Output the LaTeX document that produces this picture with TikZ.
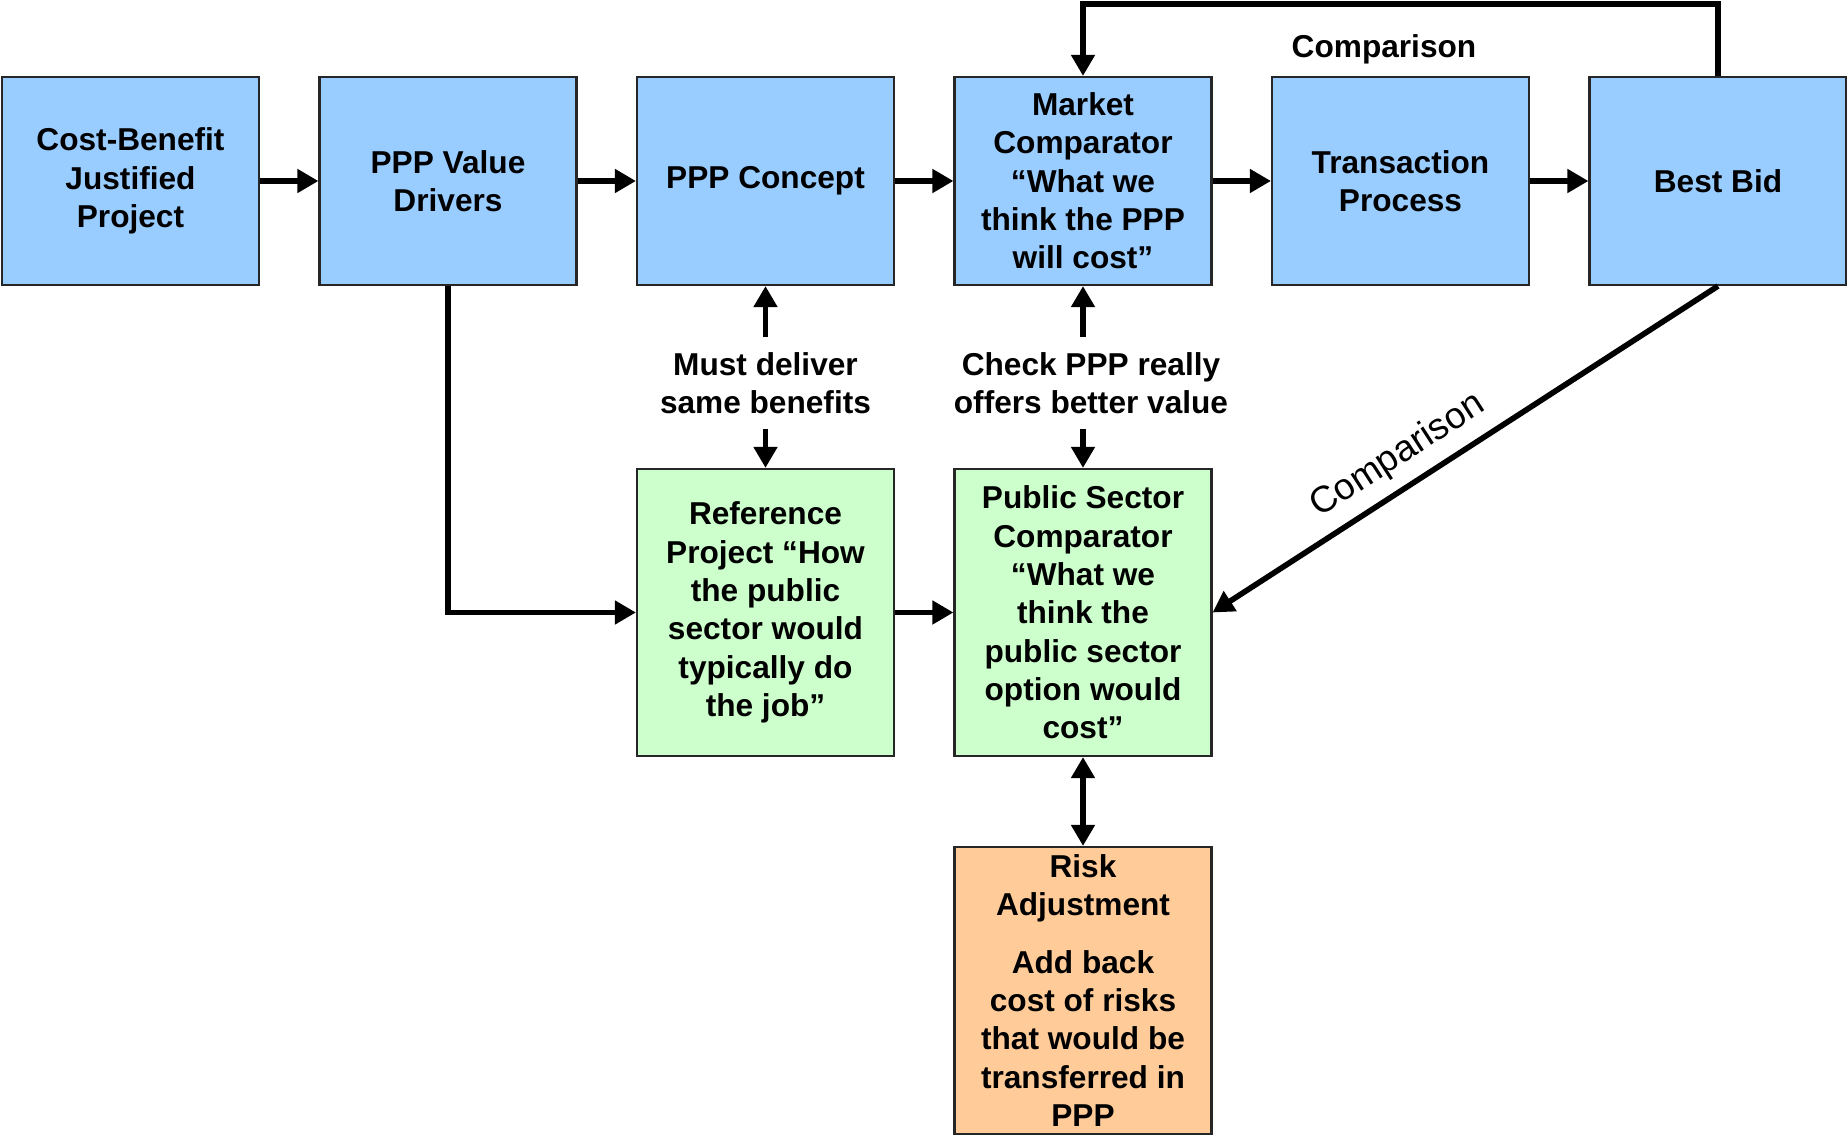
\documentclass[tikz,border=0pt]{standalone}
\usepackage{fontspec}
\setmainfont{Liberation Sans}
\usetikzlibrary{arrows.meta}
\definecolor{boxblue}{HTML}{99CCFF}
\definecolor{boxgreen}{HTML}{CCFFCC}
\definecolor{boxorange}{HTML}{FFCC99}

\begin{document}
\begin{tikzpicture}

\tikzset{
  >={Triangle[length=12pt,width=13pt]},
  box/.style={draw=black!85, line width=1.2pt, inner sep=0pt, align=center, minimum width=5.14cm, font=\bfseries\fontsize{18}{21.8}\selectfont},
  topbox/.style={box, fill=boxblue, minimum height=4.16cm},
  lowbox/.style={box, fill=boxgreen, minimum height=5.74cm},
  riskbox/.style={box, fill=boxorange, minimum height=5.74cm},
  link/.style={line width=3.2pt},
  note/.style={align=center, inner sep=8.5pt, font=\bfseries\fontsize{18}{21.8}\selectfont}
}

\useasboundingbox (0,0) rectangle (36.94,-22.76);

\node[topbox] (B_1) at (2.61,-3.62) {Cost-Benefit\\Justified\\Project};
\node[topbox] (B_2) at (8.96,-3.62) {PPP Value\\Drivers};
\node[topbox] (B_3) at (15.31,-3.62) {PPP Concept};
\node[topbox] (B_4) at (21.66,-3.62) {Market\\Comparator\\``What we\\think the PPP\\will cost''};
\node[topbox] (B_5) at (28.01,-3.62) {Transaction\\Process};
\node[topbox] (B_6) at (34.36,-3.62) {Best Bid};

\node[lowbox] (G_1) at (15.31,-12.25) {Reference\\Project ``How\\the public\\sector would\\typically do\\the job''};
\node[lowbox] (G_2) at (21.66,-12.25) {Public Sector\\Comparator\\``What we\\think the\\public sector\\option would\\cost''};
\node[riskbox] (O_1) at (21.66,-19.81) {Risk\\Adjustment\\[0.5\baselineskip]Add back\\cost of risks\\that would be\\transferred in\\PPP};

\node[note] (L_1) at (15.31,-7.66) {Must deliver\\same benefits};
\node[note] (L_2) at (21.82,-7.66) {Check PPP really\\offers better value};
\node[note] (L_3) at (27.68,-0.99) {Comparison};

\draw[link,->] (B_1) -- (B_2);
\draw[link,->] (B_2) -- (B_3);
\draw[link,->] (B_3) -- (B_4);
\draw[link,->] (B_4) -- (B_5);
\draw[link,->] (B_5) -- (B_6);
\draw[link,->] (B_6.north) -- ++(0,1.44) -| (B_4.north);

\draw[link,->] (L_1.north) -- (B_3.south);
\draw[link,->] (L_1.south) -- (G_1.north);
\draw[link,->] (B_4.south |- L_2.north) -- (B_4.south);
\draw[link,->] (B_4.south |- L_2.south) -- (G_2.north);

\draw[link,->] (B_2.south) |- (G_1.west);
\draw[link,->] (G_1) -- (G_2);
\draw[link,->] (B_6.south) -- node[pos=0.6, sloped, above=3pt, font=\fontsize{21}{24}\selectfont] (L_4) {Comparison} (G_2.east);
\draw[link,<->] (G_2.south) -- (O_1.north);

\end{tikzpicture}
\end{document}
